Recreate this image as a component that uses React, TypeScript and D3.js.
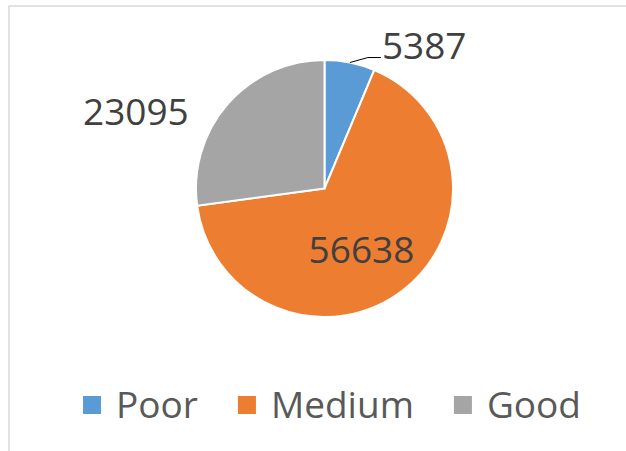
import { useRef, useEffect } from "react";
import * as d3 from "d3";

const CATEGORIES = ["Poor", "Medium", "Good"];
const VALUES = [5387, 56638, 23095];
const COLORS = ["#5b9bd5", "#ed7d31", "#a5a5a5"];

const WIDTH = 626;
const HEIGHT = 451;
const CX = 324.5;
const CY = 188.5;
const RADIUS = 128.5;
const FONT = "'Open Sans', 'Noto Sans', sans-serif";

export default function App() {
  const svgRef = useRef<SVGSVGElement>(null);

  useEffect(() => {
    if (!svgRef.current) return;
    const svg = d3.select(svgRef.current);
    svg.selectAll("*").remove();

    // chart area border (runs off the right and bottom edge)
    svg.append("rect")
      .attr("x", 9)
      .attr("y", 6)
      .attr("width", WIDTH + 40)
      .attr("height", HEIGHT + 40)
      .attr("fill", "#ffffff")
      .attr("stroke", "#d9d9d9")
      .attr("stroke-width", 1.5);

    const data = CATEGORIES.map((c, i) => ({ cat: c, value: VALUES[i], color: COLORS[i] }));
    const pie = d3.pie<(typeof data)[0]>().value((d) => d.value).sort(null);
    const arcs = pie(data);
    const arc = d3.arc<d3.PieArcDatum<(typeof data)[0]>>().innerRadius(0).outerRadius(RADIUS);
    const edge = d3.arc<d3.PieArcDatum<(typeof data)[0]>>().innerRadius(RADIUS).outerRadius(RADIUS);
    const inner = d3.arc<d3.PieArcDatum<(typeof data)[0]>>().innerRadius(RADIUS * 0.55).outerRadius(RADIUS * 0.55);

    const g = svg.append("g").attr("transform", `translate(${CX},${CY})`);

    g.selectAll("path.slice")
      .data(arcs)
      .join("path")
      .attr("class", "slice")
      .attr("d", arc)
      .attr("fill", (d) => d.data.color)
      .attr("stroke", "#ffffff")
      .attr("stroke-width", 2);

    // Poor: outside label with leader line
    const pOut = edge.centroid(arcs[0]);
    const elbow = [pOut[0] + 18, pOut[1] - 5];
    const end = [elbow[0] + 13, elbow[1]];
    g.append("path")
      .attr("d", d3.line()([pOut as [number, number], elbow as [number, number], end as [number, number]]))
      .attr("fill", "none")
      .attr("stroke", "#000000")
      .attr("stroke-width", 1);
    g.append("text")
      .attr("x", end[0] + 1)
      .attr("y", end[1] + 1)
      .attr("fill", "#404040")
      .attr("font-family", FONT)
      .attr("font-size", 37)
      .text(VALUES[0]);

    // Medium: inside label
    const mIn = inner.centroid(arcs[1]);
    g.append("text")
      .attr("x", mIn[0] - 6)
      .attr("y", mIn[1] + 18)
      .attr("text-anchor", "middle")
      .attr("fill", "#404040")
      .attr("font-family", FONT)
      .attr("font-size", 37)
      .text(VALUES[1]);

    // Good: outside label, no leader
    const gOut = edge.centroid(arcs[2]);
    g.append("text")
      .attr("x", gOut[0] - 39)
      .attr("y", gOut[1] + 21)
      .attr("text-anchor", "end")
      .attr("fill", "#404040")
      .attr("font-family", FONT)
      .attr("font-size", 37)
      .text(VALUES[2]);

    // legend
    const legend = svg.append("g");
    const items = legend.selectAll("g.item")
      .data(data)
      .join("g")
      .attr("class", "item");
    items.append("rect")
      .attr("width", 18)
      .attr("height", 18)
      .attr("y", 396)
      .attr("fill", (d) => d.color);
    const texts = items.append("text")
      .attr("y", 418)
      .attr("fill", "#595959")
      .attr("font-family", FONT)
      .attr("font-size", 37)
      .text((d) => d.cat);

    const widths: number[] = [];
    texts.each(function () {
      widths.push((this as SVGTextElement).getComputedTextLength());
    });
    const sqGap = 15;
    const itemGap = 40;
    const total = widths.reduce((a, w) => a + 18 + sqGap + w, 0) + itemGap * (widths.length - 1);
    let x = 332 - total / 2;
    items.each(function (_d, i) {
      d3.select(this).attr("transform", `translate(${x},0)`);
      d3.select(this).select("text").attr("x", 18 + sqGap);
      x += 18 + sqGap + widths[i] + itemGap;
    });
  }, []);

  return (
    <div style={{ position: "fixed", left: 0, top: 0 }}>
      <svg ref={svgRef} width={WIDTH} height={HEIGHT} style={{ display: "block" }} />
    </div>
  );
}
